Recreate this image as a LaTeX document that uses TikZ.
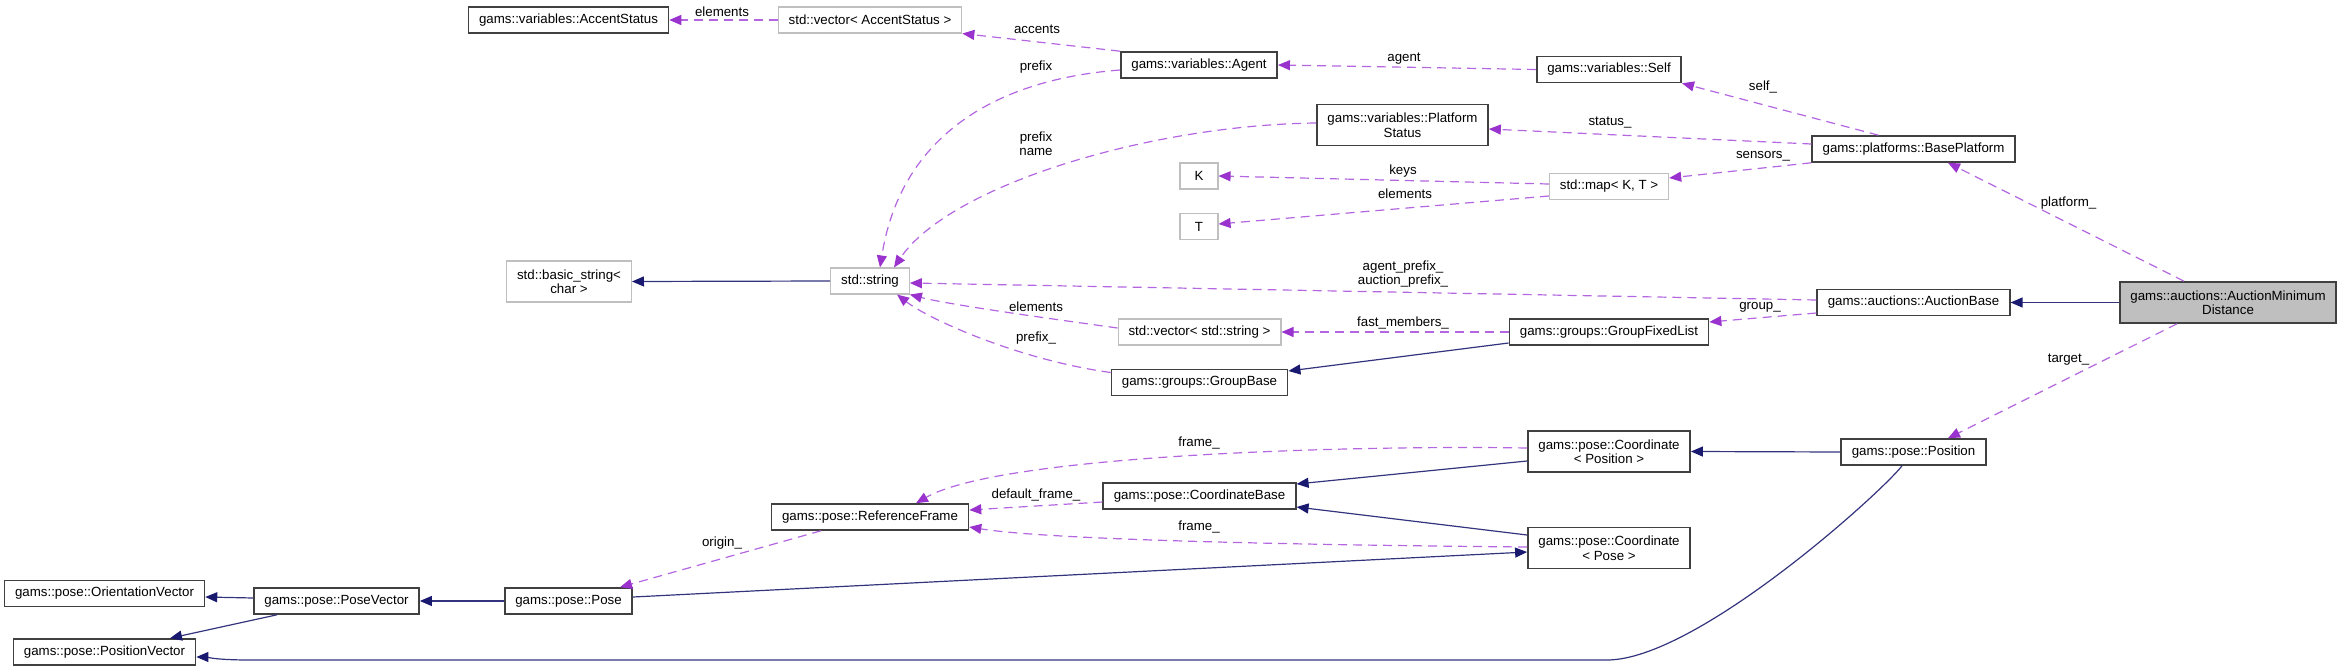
\documentclass[tikz,border=0pt]{standalone}
\usepackage{fontspec}
\setmainfont{Liberation Sans}
\usepackage{xcolor}
\usepackage{tikz}
\usetikzlibrary{arrows.meta}
\definecolor{usagepurple}{HTML}{9A32CD}
\definecolor{usageline}{HTML}{B366E0}
\definecolor{basenavy}{HTML}{191970}
\definecolor{navyline}{HTML}{34347E}
\definecolor{boxborder}{HTML}{404040}
\definecolor{stdborder}{HTML}{BFBFBF}
\definecolor{mainfill}{HTML}{BFBFBF}
\tikzset{
  classnode/.style={draw=boxborder, line width=1.6pt, fill=white, align=center, inner xsep=10.5pt, inner ysep=0pt, minimum height=26pt},
  stdnode/.style={classnode, draw=stdborder, line width=1.1pt},
  mainnode/.style={classnode, fill=mainfill},
  twoline/.style={minimum height=41pt},
  usage/.style={usageline, line width=1.2pt, dash pattern=on 9pt off 6pt, -{Triangle[length=12pt,width=10pt,color=usagepurple]}},
  inherit/.style={navyline, line width=1.2pt, -{Triangle[length=12pt,width=10pt,color=basenavy]}},
  lbl/.style={inner sep=1pt, align=center, text=black}
}

\begin{document}
\begin{tikzpicture}[x=1pt, y=-1pt, font=\fontsize{13.3}{14.5}\selectfont]
  \useasboundingbox (0,0) rectangle (2341,671);
  \node[classnode] (accentstatus) at (568.5,20) {gams::variables::AccentStatus};
  \node[stdnode] (vecaccent) at (870,20) {std::vector< AccentStatus >};
  \node[classnode] (agent) at (1199,65) {gams::variables::Agent};
  \node[classnode] (selfnode) at (1609,69.5) {gams::variables::Self};
  \node[classnode, twoline] (platstatus) at (1402.5,125) {gams::variables::Platform\\Status};
  \node[classnode] (baseplatform) at (1913.5,149) {gams::platforms::BasePlatform};
  \node[stdnode, minimum width=38pt] (keyk) at (1199,176) {K};
  \node[stdnode, minimum width=38pt] (valt) at (1199,226.5) {T};
  \node[stdnode] (stdmap) at (1609,186.5) {std::map< K, T >};
  \node[stdnode, twoline] (basicstr) at (569,281.5) {std::basic\_string<\\char >};
  \node[stdnode] (stdstr) at (870,281) {std::string};
  \node[classnode] (auctionbase) at (1913.5,302.5) {gams::auctions::AuctionBase};
  \node[mainnode, twoline] (amd) at (2228,302.5) {gams::auctions::AuctionMinimum\\Distance};
  \node[stdnode] (vecstr) at (1199.5,332) {std::vector< std::string >};
  \node[classnode] (groupfixed) at (1609,332) {gams::groups::GroupFixedList};
  \node[classnode] (groupbase) at (1199.5,382.5) {gams::groups::GroupBase};
  \node[classnode, twoline] (coordpos) at (1609,451.5) {gams::pose::Coordinate\\< Position >};
  \node[classnode] (position) at (1913.5,452) {gams::pose::Position};
  \node[classnode] (coordbase) at (1199.5,496) {gams::pose::CoordinateBase};
  \node[classnode] (refframe) at (870,517) {gams::pose::ReferenceFrame};
  \node[classnode, twoline] (coordpose) at (1609,548) {gams::pose::Coordinate\\< Pose >};
  \node[classnode] (orientvec) at (104.5,593.5) {gams::pose::OrientationVector};
  \node[classnode] (posevec) at (336.5,601) {gams::pose::PoseVector};
  \node[classnode] (pose) at (568.5,601) {gams::pose::Pose};
  \node[classnode] (posvec) at (104.5,652) {gams::pose::PositionVector};

  \draw[usage] (vecaccent.west) -- (accentstatus.east) node[lbl] (l-elems) at (722,12) {elements};
  \draw[usage] (agent.north west) -- (vecaccent.south east) node[lbl] (l-accents) at (1037,29) {accents};
  \draw[usage] ([yshift=-5pt]agent.west) .. controls (990,80) and (900,140) .. ([xshift=10pt]stdstr.north) node[lbl] (l-prefix) at (1036,67) {prefix};
  \draw[usage] (selfnode.west) -- (agent.east) node[lbl] (l-agent) at (1404,59) {agent};
  \draw[usage] ([yshift=2pt]platstatus.west) .. controls (1150,125) and (950,185) .. ([xshift=24pt]stdstr.north) node[lbl] (l-prefixname) at (1036,143.5) {prefix\\name};
  \draw[usage] ([xshift=-35pt]baseplatform.north) -- (selfnode.south east) node[lbl] (l-self) at (1763,87) {self\_};
  \draw[usage] ([yshift=5pt]baseplatform.west) -- ([yshift=-4pt]platstatus.east) node[lbl] (l-status) at (1610,123) {status\_};
  \draw[usage] (baseplatform.south west) -- ([yshift=8.5pt]stdmap.east) node[lbl] (l-sensors) at (1763,156) {sensors\_};
  \draw[usage] ([yshift=2.5pt]stdmap.west) -- (keyk.east) node[lbl] (l-keys) at (1403,171) {keys};
  \draw[usage] ([yshift=-9.5pt]stdmap.west) -- ([yshift=2.5pt]valt.east) node[lbl] (l-elemt) at (1405,194) {elements};
  \draw[usage] ([xshift=-44pt]amd.north) -- ([xshift=34.5pt]baseplatform.south) node[lbl] (l-platform) at (2068.5,203) {platform\_};
  \draw[usage] ([yshift=2.5pt]auctionbase.west) -- ([yshift=-2pt]stdstr.east) node[lbl] (l-prefixes) at (1403,274) {agent\_prefix\_\\auction\_prefix\_};
  \draw[usage] ([yshift=-10.5pt]auctionbase.west) -- ([yshift=10pt]groupfixed.east) node[lbl] (l-group) at (1760,307) {group\_};
  \draw[usage] (groupfixed.west) -- (vecstr.east) node[lbl] (l-members) at (1403,323) {fast\_members\_};
  \draw[usage] ([yshift=4pt]vecstr.west) .. controls (1060,320) and (950,305) .. (stdstr.south east) node[lbl] (l-elemstr) at (1036,307) {elements};
  \draw[usage] ([yshift=10pt]groupbase.west) .. controls (1020,360) and (930,320) .. ([xshift=27pt]stdstr.south) node[lbl] (l-grprefix) at (1036,338) {prefix\_};
  \draw[usage] ([xshift=-51pt]amd.south) -- ([xshift=34.5pt]position.north) node[lbl] (l-target) at (2068.5,360) {target\_};
  \draw[usage] ([yshift=3.5pt]coordpos.west) .. controls (1350,445) and (1000,455) .. ([xshift=46pt]refframe.north) node[lbl] (l-framepos) at (1199,443) {frame\_};
  \draw[usage] ([yshift=-6pt]coordbase.west) -- ([yshift=7pt]refframe.east) node[lbl] (l-default) at (1036,495) {default\_frame\_};
  \draw[usage] ([yshift=1pt]coordpose.west) .. controls (1300,545) and (1050,540) .. ([yshift=-10pt]refframe.east) node[lbl] (l-framepose) at (1199,527) {frame\_};
  \draw[usage] ([xshift=-49pt]refframe.south) -- ([xshift=51.5pt]pose.north) node[lbl] (l-origin) at (722,543) {origin\_};

  \draw[inherit] (stdstr.west) -- (basicstr.east);
  \draw[inherit] (amd.west) -- (auctionbase.east);
  \draw[inherit] ([yshift=-11pt]groupfixed.west) -- ([yshift=11.5pt]groupbase.east);
  \draw[inherit] (position.west) -- (coordpos.east);
  \draw[inherit] ([yshift=-9.5pt]coordpos.west) -- ([yshift=12pt]coordbase.east);
  \draw[inherit] ([yshift=13pt]coordpose.west) -- ([yshift=-11pt]coordbase.east);
  \draw[inherit] ([yshift=4pt]pose.east) -- ([yshift=-4pt]coordpose.west);
  \draw[inherit] (pose.west) -- (posevec.east);
  \draw[inherit] ([yshift=3pt]posevec.west) -- ([yshift=-3.5pt]orientvec.east);
  \draw[inherit] ([xshift=-59.5pt]posevec.south) -- ([xshift=65.5pt]posvec.north);
  \draw[inherit] ([xshift=-11.5pt]position.south) .. controls (1881,493) and (1696,660) .. (1607,660) -- (250,660) .. controls (215,660) and (205,657) .. ([yshift=-5pt]posvec.east);
\end{tikzpicture}
\end{document}
